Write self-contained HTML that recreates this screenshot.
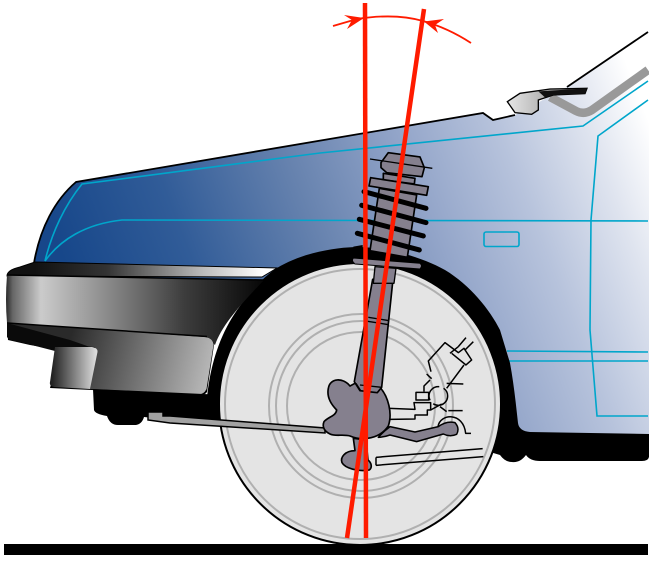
<!DOCTYPE html>
<html>
<head>
<meta charset="utf-8">
<style>
html,body{margin:0;padding:0;background:#fff;width:656px;height:563px;overflow:hidden}
svg{display:block}
</style>
</head>
<body>
<svg width="656" height="563" viewBox="0 0 656 563" xmlns="http://www.w3.org/2000/svg">
<defs>
<linearGradient id="body" gradientUnits="userSpaceOnUse" x1="60" y1="250" x2="616" y2="36">
<stop offset="0" stop-color="#17478a"/>
<stop offset=".2" stop-color="#315c98"/>
<stop offset=".41" stop-color="#6682ae"/>
<stop offset=".6" stop-color="#93a5c9"/>
<stop offset=".76" stop-color="#b7c3dc"/>
<stop offset=".9" stop-color="#dfe4ef"/>
<stop offset="1" stop-color="#ffffff"/>
</linearGradient>
<linearGradient id="bump" gradientUnits="userSpaceOnUse" x1="5" y1="0" x2="262" y2="0">
<stop offset="0" stop-color="#222"/>
<stop offset=".03" stop-color="#666"/>
<stop offset=".14" stop-color="#cbcbcb"/>
<stop offset=".4" stop-color="#8a8a8a"/>
<stop offset=".7" stop-color="#3c3c3c"/>
<stop offset="1" stop-color="#080808"/>
</linearGradient>
<linearGradient id="strip" gradientUnits="userSpaceOnUse" x1="35" y1="0" x2="275" y2="0">
<stop offset="0" stop-color="#111"/>
<stop offset=".3" stop-color="#333"/>
<stop offset=".7" stop-color="#bbb"/>
<stop offset=".95" stop-color="#fff"/>
</linearGradient>
<linearGradient id="panel" gradientUnits="userSpaceOnUse" x1="70" y1="340" x2="210" y2="375">
<stop offset="0" stop-color="#2a2a2a"/>
<stop offset="1" stop-color="#b8b8b8"/>
</linearGradient>
<linearGradient id="nub" gradientUnits="userSpaceOnUse" x1="52" y1="0" x2="96" y2="0">
<stop offset="0" stop-color="#222"/>
<stop offset="1" stop-color="#dcdcdc"/>
</linearGradient>
<linearGradient id="wiperL" x1="0" y1="0" x2="1" y2="0">
<stop offset="0" stop-color="#e6e6e6"/>
<stop offset="1" stop-color="#777"/>
</linearGradient>
</defs>

<!-- car body -->
<path d="M34,263 C40,228 55,200 76,182 L483,113 L493,120 L515,115 L567,87 L649,32 L649,436 L528,436 L510,420 L300,300 Z" fill="url(#body)"/>
<path d="M34,263 C40,228 55,200 76,182 L483,113 L493,120 L515,115 M567,87 L648,32" fill="none" stroke="#000" stroke-width="1.8"/>

<!-- windshield strip -->
<path d="M550,97 L576,111 Q584,115 592,110 L648,70" fill="none" stroke="#999" stroke-width="8.5"/>

<!-- blue lines -->
<g fill="none" stroke="#00a6cb" stroke-width="1.6">
<path d="M45,261 C52,232 65,205 82,184 L320,153 L583,126 L648,81"/>
<path d="M45,261 C60,240 85,224 122,220 L648,221"/>
<path d="M648,100 L598,136 L591,220 L590,330 L597,416 L648,416"/>
<path d="M507,351 L648,352 M509,361 L648,361"/>
<rect x="484" y="232" width="35" height="14.500" rx="2"/>
</g>

<!-- wiper -->
<g transform="translate(470,20) scale(.3333)">
<path d="M112,245 L150,220 L240,207 L351,205 L345,221 L250,225 L205,240 L205,270 L185,283 L135,278 Z" fill="url(#wiperL)" stroke="#000" stroke-width="4"/>
<path d="M205,214 L351,205 L345,221 L250,225 L225,232 Z" fill="#111"/>
</g>

<!-- wheel arch and lower black -->
<path d="M207,397 C211,360 222,330 240,306 C250,292 262,278 277,268 C300,254 330,248 355,247 C385,247 420,256 445,270 C470,285 490,310 500,330 L510,363 C514,385 516,405 518,423 Q519,431 530,432 L649,434 L649,457 Q648,461 642,461 L540,461 Q530,461 526,455 Q520,463 512,462 Q505,462 500,455 L490,452 L300,470 L222,410 Z" fill="#000"/>

<!-- bumper -->
<g>
<path d="M7,276 Q7,270 20,267 L35,262 L277,268 L262,277 L7,276 Z" fill="url(#strip)" stroke="#000" stroke-width="1"/>
<path d="M7,275 L264,280 C240,305 222,325 215,345 L206,338 L7,323 Q5,300 7,275 Z" fill="url(#bump)"/>
<path d="M7,275 L264,280" stroke="#000" stroke-width="1.500" fill="none"/>
<path d="M7,323 L207,337 Q213,339 214,345 L207,392 Q204,396 198,395 L50,388 L60,350 L30,345 L8,340 Z" fill="#000"/>
<path d="M95,347 L60,345 L20,341 L7,337 L7,323 L205,337 Q213,338 213.500,345 L206.500,389 Q204,394.500 198,394.500 L90,389 Z" fill="url(#panel)"/>
<path d="M7,323 L207,336.500" stroke="#000" stroke-width="1.500" fill="none"/>
<path d="M7,323 L7,337 Q10,341 20,342 L55,351 L90,347 L70,340 Z" fill="#0a0a0a"/>
<path d="M55,347 L92,347 Q98,348 97.500,352 L90,389 L54,387 Q49,386 50,382 Z" fill="url(#nub)"/>
<path d="M93,389 L94,410 Q95,414 107,416 Q110,425 118,425 L136,425 Q142,424 144,417 L222,425 L225,395 Z" fill="#000"/>
</g>

<!-- wheel -->
<circle cx="360" cy="404" r="141" fill="#e4e4e4" stroke="#000" stroke-width="2"/>
<g fill="none" stroke="#b0b0b0" stroke-width="2">
<circle cx="360" cy="404" r="135"/>
<circle cx="361" cy="406" r="92"/>
<circle cx="361" cy="406" r="85"/>
<circle cx="361" cy="406" r="74"/>
</g>

<!-- tie rod -->
<path d="M148,412 L163,412 L163,416 L170,416 L325,428 L325,433 L170,423 L148,420 Z" fill="#a2a2a2" stroke="#000" stroke-width="1.500"/>

<!-- suspension lower -->
<g transform="translate(300,300) scale(.3333)" stroke="#000" stroke-linejoin="round">
<!-- linkage -->
<g fill="none" stroke-width="4.500">
<path d="M270,325 L345,328 L342,308 L392,308 L392,330 L382,330 L382,345 L345,345 L345,357 L270,358"/>
<rect x="348" y="277" width="38" height="23" fill="#e4e4e4"/>
<circle cx="415" cy="288" r="28" stroke-dasharray="60 14"/>
<path d="M372,275 L372,258 L390,240 M380,222 L395,236 M393,215 L385,183 L435,128 L475,158 L492,145 L515,180 L498,195 L455,160 M492,195 L440,265 M450,160 L475,140 M475,140 L498,113 M495,150 L520,125 M440,250 L490,252 M445,332 L488,332 M420,320 L440,335 M425,312 L392,330"/>
<path d="M414,380 C420,340 490,335 497,400 L513,400"/>
<path d="M228,472 L548,446 M228,496 L550,470 M228,472 L228,496"/>
</g>
<!-- lower arm -->
<path d="M235,412 Q250,395 270,380 L345,396 L415,380 Q440,362 465,368 Q480,385 470,403 Q450,412 430,402 L350,425 L270,405 Q250,412 235,412 Z" fill="#85808e" stroke-width="4.500"/>
<!-- hub -->
<path d="M160,415 L165,452 C135,452 120,472 126,488 C135,505 175,516 208,510 C218,502 214,488 204,480 L198,420 Z" fill="#85808e" stroke-width="5"/>
<path d="M85,265 C90,233 130,232 150,258 L165,250 L240,262 C265,290 278,340 265,378 C240,415 190,425 150,408 C130,402 105,410 90,402 C75,395 65,382 72,365 C85,350 108,348 110,330 C90,310 80,290 85,265 Z" fill="#85808e" stroke-width="5"/>
<path d="M218,-62 L279,-62 L245,262 L232,278 L180,272 L163,245 Z" fill="#85808e" stroke-width="5"/>
<path d="M205,52 L268,62 M203,64 L266,74 M168,250 L182,272 M245,262 L180,255" fill="none" stroke-width="4"/>
</g>

<!-- strut upper -->
<g transform="translate(320,0) scale(.3333)" stroke="#000" stroke-linejoin="round">
<path d="M165,800 L228,805 L222,850 L160,850 Z" fill="#85808e" stroke-width="4"/>
<path d="M178,565 L290,585 L262,772 L150,752 Z" fill="#85808e" stroke-width="5"/>
<g stroke-linecap="round" fill="none" stroke-width="15">
<path d="M132,575 L318,625"/>
<path d="M125,616 L318,668"/>
<path d="M118,658 L310,708"/>
<path d="M112,700 L298,750"/>
</g>
<path d="M190,520 L285,535 L283,552 L190,540 Z" fill="#85808e" stroke-width="5"/>
<path d="M152,533 L325,560 L320,586 L147,558 Z" fill="#85808e" stroke-width="5"/>
<path d="M205,458 L300,471 L313,503 L306,530 L200,518 L183,503 L183,488 Z" fill="#85808e" stroke-width="5"/>
<path d="M150,477 L337,505" fill="none" stroke-width="4"/>
<path d="M100,774 L300,790 Q309,798 300,807 L105,792 Q93,783 100,774 Z" fill="#85808e" stroke-width="3"/>
<path d="M100,740 L128,735 L128,760 L100,745 Z" fill="#000" stroke="none"/>
</g>

<!-- red lines -->
<g fill="none" stroke="#ff1b00">
<path d="M365,3 L366,538" stroke-width="4.500"/>
<path d="M424,9 L347,538" stroke-width="4.500"/>
<path d="M333,26 L357,19 Q395,13 423,21 Q448,28 471,43" stroke-width="1.800"/>
</g>
<path d="M364,18 L344,15 L352,20 L347,29 Z" fill="#ff1b00"/>
<path d="M424,21.500 L444,19 L435,25 L438,33 Z" fill="#ff1b00"/>

<!-- ground -->
<rect x="4" y="544" width="644" height="11" fill="#000"/>
<rect x="649" y="0" width="7" height="563" fill="#fff"/>
</svg>
</body>
</html>
